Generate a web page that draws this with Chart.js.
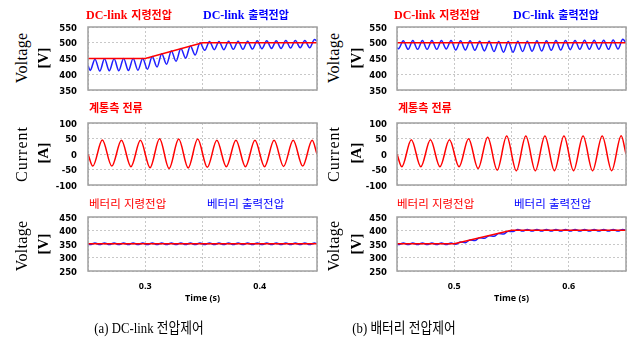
<!DOCTYPE html>
<html lang="ko">
<head>
<meta charset="utf-8">
<title>DC-link / 배터리 전압제어</title>
<script src="https://cdn.jsdelivr.net/npm/chart.js@4.4.1/dist/chart.umd.min.js"></script>
<style>
  html, body { margin: 0; padding: 0; background: #fff; }
  #fig { position: relative; width: 640px; height: 342px; overflow: hidden; background: #fff; }
  #fig canvas { position: absolute; }
  .lb { position: absolute; white-space: nowrap; line-height: 1; transform: translateY(-50%); }
  .red { color: #ff0000; }
  .blue { color: #0000ff; }
  .lat { font: bold 12px "Liberation Serif", serif; }
  .kr { font: bold 11px "Noto Sans CJK KR", sans-serif; }
  .kr2 { font: 11.5px "Noto Sans CJK KR", sans-serif; }
  .yl { position: absolute; white-space: nowrap; line-height: 1; transform: translate(-50%, -50%) rotate(-90deg); }
  .yname { font: 16px "Liberation Serif", serif; }
  .yunit { font: bold 15px "Liberation Serif", serif; }
  .cap { position: absolute; white-space: nowrap; line-height: 1; transform: translate(-50%, -50%) scaleX(0.85);
         font: 15px "Liberation Serif", "Noto Sans CJK KR", serif; color: #000; }
</style>
</head>
<body>
<div id="fig">
  <canvas id="dcL" width="280" height="82" style="left:40px;top:16px"></canvas>
  <canvas id="dcR" width="290" height="82" style="left:350px;top:16px"></canvas>
  <canvas id="curL" width="280" height="82" style="left:40px;top:112px"></canvas>
  <canvas id="curR" width="290" height="82" style="left:350px;top:112px"></canvas>
  <canvas id="batL" width="280" height="112" style="left:40px;top:206px"></canvas>
  <canvas id="batR" width="290" height="112" style="left:350px;top:206px"></canvas>

  <div class="lb red" style="left:86px;top:14px"><span class="lat">DC-link</span> <span class="kr">지령전압</span></div>
  <div class="lb blue" style="left:203px;top:14px"><span class="lat">DC-link</span> <span class="kr">출력전압</span></div>
  <div class="lb red" style="left:394px;top:14px"><span class="lat">DC-link</span> <span class="kr">지령전압</span></div>
  <div class="lb blue" style="left:513px;top:14px"><span class="lat">DC-link</span> <span class="kr">출력전압</span></div>

  <div class="lb red kr" style="left:89px;top:107px">계통측 전류</div>
  <div class="lb red kr" style="left:398px;top:107px">계통측 전류</div>

  <div class="lb red kr2" style="left:89px;top:203px">베터리 지령전압</div>
  <div class="lb blue kr2" style="left:207px;top:203px">베터리 출력전압</div>
  <div class="lb red kr2" style="left:397px;top:203px">베터리 지령전압</div>
  <div class="lb blue kr2" style="left:514px;top:203px">베터리 출력전압</div>

  <div class="yl yname" style="left:22px;top:58px;letter-spacing:0.3px">Voltage</div>
  <div class="yl yunit" style="left:43px;top:58px">[V]</div>
  <div class="yl yname" style="left:22px;top:154px;letter-spacing:1px">Current</div>
  <div class="yl yunit" style="left:43px;top:153px">[A]</div>
  <div class="yl yname" style="left:22px;top:246px;letter-spacing:0.3px">Voltage</div>
  <div class="yl yunit" style="left:43px;top:244px">[V]</div>

  <div class="yl yname" style="left:334px;top:58px;letter-spacing:0.3px">Voltage</div>
  <div class="yl yunit" style="left:356px;top:58px">[V]</div>
  <div class="yl yname" style="left:334px;top:154px;letter-spacing:1px">Current</div>
  <div class="yl yunit" style="left:356px;top:153px">[A]</div>
  <div class="yl yname" style="left:334px;top:246px;letter-spacing:0.3px">Voltage</div>
  <div class="yl yunit" style="left:356px;top:244px">[V]</div>

  <div class="cap" style="left:149px;top:326px">(a) DC-link 전압제어</div>
  <div class="cap" style="left:404px;top:326px">(b) 배터리 전압제어</div>
</div>

<script>
Chart.defaults.font.family = '"DejaVu Sans", sans-serif';
Chart.defaults.color = '#000';

const RED = '#ff0000';
const BLUE = '#1f1fff';

// 120 Hz 리플 극값 시각 (s)
const rippleTimeL = [0.25, 0.2519, 0.2561, 0.2603, 0.2644, 0.2686, 0.2728, 0.2769, 0.2811, 0.2853,
    0.2894, 0.2936, 0.2978, 0.3019, 0.3061, 0.3103, 0.3144, 0.3186, 0.3228, 0.3269,
    0.3311, 0.3353, 0.3394, 0.3436, 0.3478, 0.3519, 0.3561, 0.3603, 0.3644, 0.3686,
    0.3728, 0.3769, 0.3811, 0.3853, 0.3894, 0.3936, 0.3978, 0.4019, 0.4061, 0.4103,
    0.4144, 0.4186, 0.4228, 0.4269, 0.4311, 0.4353, 0.4394, 0.4436, 0.4478, 0.45];
const rippleTimeR = [0.45, 0.4513, 0.4555, 0.4597, 0.4638, 0.4680, 0.4722, 0.4763, 0.4805, 0.4847,
    0.4888, 0.4930, 0.4972, 0.5013, 0.5055, 0.5097, 0.5138, 0.5180, 0.5222, 0.5263,
    0.5305, 0.5347, 0.5388, 0.5430, 0.5472, 0.5513, 0.5555, 0.5597, 0.5638, 0.5680,
    0.5722, 0.5763, 0.5805, 0.5847, 0.5888, 0.5930, 0.5972, 0.6013, 0.6055, 0.6097,
    0.6138, 0.6180, 0.6222, 0.6263, 0.6305, 0.6347, 0.6388, 0.6430, 0.6472, 0.65];

// DC-link 전압 [V]
const dcRefTimeL = [0.25, 0.30, 0.35, 0.45];
const dcRefL = [450, 450, 500, 500];
const dcOutL = [428, 412, 448, 410, 449, 411, 449, 411, 450, 412,
    450, 413, 450, 416, 456, 423, 465, 432, 474, 441,
    482, 451, 490, 461, 500, 476, 504, 478, 504, 478,
    505, 479, 505, 479, 505, 480, 506, 481, 506, 482,
    506, 482, 507, 483, 507, 484, 507, 484, 510, 505];
const dcRefTimeR = [0.45, 0.65];
const dcRefR = [500, 500];
const dcOutR = [484, 481, 506, 479, 507, 479, 507, 479, 507, 479,
    507, 480, 507, 477, 506, 477, 506, 476, 505, 474,
    505, 472, 504, 470, 504, 470, 505, 472, 505, 473,
    506, 474, 506, 476, 507, 477, 507, 478, 507, 479,
    508, 479, 508, 479, 508, 479, 509, 480, 511, 500];

// 계통측 전류 [A], 60 Hz 극값
const gridTimeL = [0.25, 0.2542, 0.2625, 0.2708, 0.2792, 0.2875, 0.2958, 0.3042, 0.3125, 0.3208,
    0.3292, 0.3375, 0.3458, 0.3542, 0.3625, 0.3708, 0.3792, 0.3875, 0.3958, 0.4042,
    0.4125, 0.4208, 0.4292, 0.4375, 0.4458, 0.45];
const gridCurL = [0, -39, 45, -39, 44, -41, 44, -44, 49, -47,
    48, -45, 48, -43, 44, -41, 44, -41, 44, -41,
    44, -40, 44, -39, 44, 0];
const gridTimeR = [0.45, 0.4542, 0.4625, 0.4708, 0.4792, 0.4875, 0.4958, 0.5042, 0.5125, 0.5208,
    0.5292, 0.5375, 0.5458, 0.5542, 0.5625, 0.5708, 0.5792, 0.5875, 0.5958, 0.6042,
    0.6125, 0.6208, 0.6292, 0.6375, 0.6458, 0.65];
const gridCurR = [0, -41, 46, -41, 46, -41, 46, -41, 49, -47,
    54, -52, 58, -54, 58, -54, 58, -54, 58, -54,
    58, -54, 58, -54, 59, 0];

// 베터리 전압 [V]
const batRefTimeL = [0.25, 0.45];
const batRefL = [351, 351];
const batOutL = [351, 348, 354, 348, 354, 348, 354, 348, 354, 348,
    354, 348, 354, 348, 354, 348, 354, 348, 354, 348,
    354, 348, 354, 348, 354, 348, 354, 348, 354, 348,
    354, 348, 354, 348, 354, 348, 354, 348, 354, 348,
    354, 348, 354, 348, 354, 348, 354, 348, 354, 351];
const batRefTimeR = [0.45, 0.50, 0.55, 0.65];
const batRefR = [351, 351, 401, 401];
const batOutR = [351, 348, 354, 348, 354, 348, 354, 348, 354, 348,
    354, 348, 354, 349, 357, 355, 365, 363, 373, 371,
    381, 379, 389, 387, 397, 396, 404, 398, 404, 398,
    404, 398, 404, 398, 404, 398, 404, 398, 404, 398,
    404, 398, 404, 398, 404, 398, 404, 398, 404, 401];

const framePlugin = {
    id: 'frame',
    afterDraw: (chart) => {
        let a = chart.chartArea;
        let ctx = chart.ctx;
        ctx.save();
        ctx.strokeStyle = '#a0a0a0';
        ctx.lineWidth = 1.5;
        ctx.strokeRect(a.left, a.top, a.right - a.left, a.bottom - a.top);
        ctx.restore();
    }
};

toPoints = (t, v) => t.map((x, i) => ({ x: x, y: v[i] }));

makeChart = (id, cfg) => {
    let datasets = cfg.sets.map(s => ({
        data: toPoints(s.t, s.v),
        borderColor: s.color,
        borderWidth: 1.5,
        pointRadius: 0,
        cubicInterpolationMode: s.smooth ? 'monotone' : 'default',
        tension: 0
    }));
    return new Chart(document.getElementById(id), {
        type: 'line',
        data: { datasets: datasets },
        options: {
            responsive: false,
            animation: false,
            events: [],
            layout: { padding: cfg.pad },
            plugins: { legend: { display: false }, tooltip: { enabled: false } },
            scales: {
                x: {
                    type: 'linear',
                    min: cfg.xMin,
                    max: cfg.xMax,
                    afterFit: s => {
                        s.height = cfg.xHeight;
                        s.paddingLeft = 0;
                        s.paddingRight = 0;
                    },
                    grid: { color: '#c8c8c8', drawTicks: false },
                    border: { display: false, dash: [2, 2] },
                    ticks: {
                        stepSize: 0.05,
                        display: cfg.xLabels,
                        autoSkip: false,
                        maxRotation: 0,
                        padding: 10,
                        font: { family: '"Open Sans"', size: 9, weight: 'bold' },
                        callback: v => Math.abs(v * 10 - Math.round(v * 10)) < 1e-6 ? v.toFixed(1) : ''
                    },
                    title: {
                        display: cfg.xLabels,
                        text: 'Time (s)',
                        font: { family: '"Open Sans"', size: 9, weight: 'bold' },
                        padding: { top: 0, bottom: 3 }
                    }
                },
                y: {
                    min: cfg.yMin,
                    max: cfg.yMax,
                    afterFit: s => {
                        s.width = cfg.yWidth;
                        s.paddingTop = 0;
                        s.paddingBottom = 0;
                    },
                    grid: { color: '#c8c8c8', drawTicks: false },
                    border: { display: false, dash: [2, 2] },
                    ticks: {
                        stepSize: 50,
                        autoSkip: false,
                        padding: cfg.yPad,
                        labelOffset: 1.5,
                        font: { family: '"DejaVu Sans"', size: 8.5, weight: 'bold' }
                    }
                }
            }
        },
        plugins: [framePlugin]
    });
}

const left = { xMin: 0.25, xMax: 0.45, yWidth: 48, yPad: 11 };
const right = { xMin: 0.45, xMax: 0.65, yWidth: 47, yPad: 10 };

makeChart('dcL', Object.assign({}, left, {
    yMin: 350, yMax: 550, xHeight: 0, xLabels: false,
    pad: { top: 11, bottom: 8, left: 0, right: 3 },
    sets: [
        { t: dcRefTimeL, v: dcRefL, color: RED, smooth: false },
        { t: rippleTimeL, v: dcOutL, color: BLUE, smooth: true }
    ]
}));
makeChart('dcR', Object.assign({}, right, {
    yMin: 350, yMax: 550, xHeight: 0, xLabels: false,
    pad: { top: 11, bottom: 8, left: 0, right: 14 },
    sets: [
        { t: dcRefTimeR, v: dcRefR, color: RED, smooth: false },
        { t: rippleTimeR, v: dcOutR, color: BLUE, smooth: true }
    ]
}));
makeChart('curL', Object.assign({}, left, {
    yMin: -100, yMax: 100, xHeight: 0, xLabels: false,
    pad: { top: 11, bottom: 9, left: 0, right: 3 },
    sets: [{ t: gridTimeL, v: gridCurL, color: RED, smooth: true }]
}));
makeChart('curR', Object.assign({}, right, {
    yMin: -100, yMax: 100, xHeight: 0, xLabels: false,
    pad: { top: 11, bottom: 9, left: 0, right: 14 },
    sets: [{ t: gridTimeR, v: gridCurR, color: RED, smooth: true }]
}));
makeChart('batL', Object.assign({}, left, {
    yMin: 250, yMax: 450, xHeight: 36, xLabels: true,
    pad: { top: 11, bottom: 11, left: 0, right: 3 },
    sets: [
        { t: batRefTimeL, v: batRefL, color: RED, smooth: false },
        { t: rippleTimeL, v: batOutL, color: BLUE, smooth: true }
    ]
}));
makeChart('batR', Object.assign({}, right, {
    yMin: 250, yMax: 450, xHeight: 36, xLabels: true,
    pad: { top: 11, bottom: 11, left: 0, right: 14 },
    sets: [
        { t: batRefTimeR, v: batRefR, color: RED, smooth: false },
        { t: rippleTimeR, v: batOutR, color: BLUE, smooth: true }
    ]
}));
</script>
</body>
</html>
